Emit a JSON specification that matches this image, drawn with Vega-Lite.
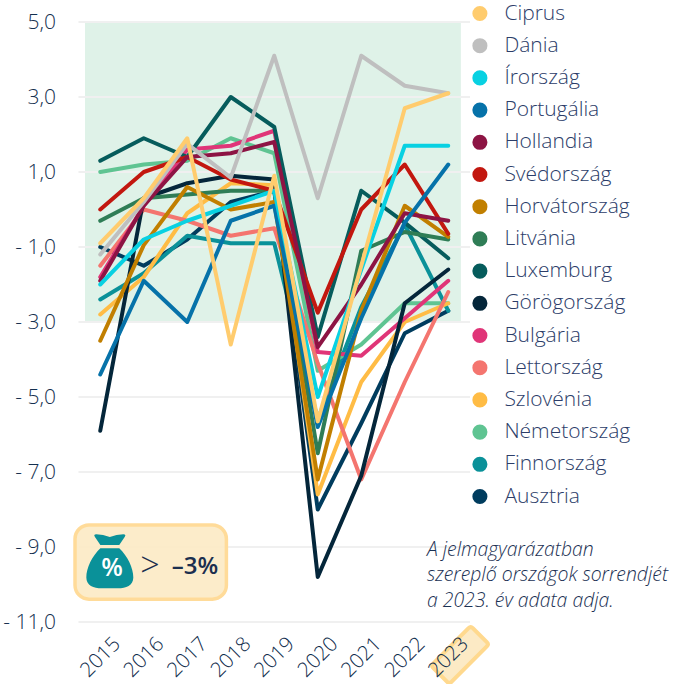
{
"$schema":"https://vega.github.io/schema/vega-lite/v6.json",
"width":391.5,"height":600,
"autosize":{"type":"none"},
"padding":{"left":78.5,"top":22,"right":219,"bottom":62},
"background":"white",
"config":{"view":{"stroke":null},"font":"Open Sans"},
"layer":[
{"data":{"values":[{"x1":2014.65,"x2":2023.29,"y1":5,"y2":-3}]},
 "mark":{"type":"rect","fill":"#DFF2E8"},
 "encoding":{
  "x":{"field":"x1","type":"quantitative","scale":{"domain":[2014.5,2023.5],"nice":false,"zero":false},
   "axis":{"values":[2015,2016,2017,2018,2019,2020,2021,2022,2023],"format":"d","title":null,"grid":false,"domain":false,"ticks":false,"labelAngle":-45,"labelAlign":"center","labelBaseline":"middle","labelPadding":35,"labelFont":"Open Sans","labelFontWeight":300,"labelFontSize":20.5,"labelColor":"#0F2C4C","labelOverlap":false,"labelBound":false,"labelFlush":false,"zindex":1,
    "encoding":{"labels":{"update":{"dx":{"signal":"(datum.value-2015)*1.25+3.5"}}}}}},
  "x2":{"field":"x2"},
  "y":{"field":"y1","type":"quantitative","scale":{"domain":[-11,5],"nice":false,"zero":false},
   "axis":{"values":[5,3,1,-1,-3,-5,-7,-9,-11],"title":null,"grid":false,"domain":false,"ticks":false,"labelPadding":23,"labelFont":"Open Sans","labelFontWeight":300,"labelFontSize":21,"labelColor":"#14304F","labelOverlap":false,"labelBound":false,"labelFlush":false,
    "labelExpr":"(datum.value<0?'- ':'')+replace(format(abs(datum.value),'.1f'),'.',',')"}},
  "y2":{"field":"y2"}
 }},
{"data":{"values":[{"g":5},{"g":3},{"g":1},{"g":-1},{"g":-3},{"g":-5},{"g":-7},{"g":-9},{"g":-11}]},
 "mark":{"type":"rule","stroke":"#F0F0F0","strokeWidth":2},
 "encoding":{"y":{"field":"g","type":"quantitative"}}},
{"data":{"values":[{"x1":2014.42,"x2":2017.9,"y1":-8.41,"y2":-10.39}]},
 "mark":{"type":"rect","fill":"#FCEAC5","fillOpacity":0.92,"stroke":"#FFDB99","strokeWidth":3.5,"cornerRadius":14},
 "encoding":{"x":{"field":"x1","type":"quantitative"},"x2":{"field":"x2"},"y":{"field":"y1","type":"quantitative"},"y2":{"field":"y2"}}},
{"data":{"values":[{"x":2015.22,"y":-9.38}]},
 "mark":{"type":"point","filled":true,"fill":"#0A9199","opacity":1,"size":2916,"shape":"M-0.5,-1 Q-0.25,-1 0,-0.9 Q0.25,-1 0.5,-1 Q0.62,-1 0.55,-0.9 L0.35,-0.6 L-0.35,-0.6 L-0.55,-0.9 Q-0.62,-1 -0.5,-1 Z M-0.35,-0.48 L0.35,-0.48 C0.65,-0.2 0.87,0.25 0.87,0.6 C0.87,0.9 0.6,1 0.3,1 L-0.3,1 C-0.6,1 -0.87,0.9 -0.87,0.6 C-0.87,0.25 -0.65,-0.2 -0.35,-0.48 Z"},
 "encoding":{"x":{"field":"x","type":"quantitative"},"y":{"field":"y","type":"quantitative"}}},
{"data":{"values":[{"x":2023.27,"y":-11.88}]},
 "mark":{"type":"point","filled":true,"fill":"#FCEAC5","stroke":"#FFD98E","strokeWidth":4,"opacity":1,"size":3721,"shape":"M.42,-.88 L.88,-.42 Q.95,-.35 .88,-.28 L-.28,.88 Q-.35,.95 -.42,.88 L-.88,.42 Q-.95,.35 -.88,.28 L.28,-.88 Q.35,-.95 .42,-.88 Z"},
 "encoding":{"x":{"field":"x","type":"quantitative"},"y":{"field":"y","type":"quantitative"}}},
{"data":{"values":[
{"o":"Ausztria","e":2015,"v":-1.0},{"o":"Ausztria","e":2016,"v":-1.5},{"o":"Ausztria","e":2017,"v":-0.8},{"o":"Ausztria","e":2018,"v":0.2},{"o":"Ausztria","e":2019,"v":0.5},{"o":"Ausztria","e":2020,"v":-8.0},{"o":"Ausztria","e":2021,"v":-5.7},{"o":"Ausztria","e":2022,"v":-3.3},{"o":"Ausztria","e":2023,"v":-2.7},
{"o":"Finnország","e":2015,"v":-2.4},{"o":"Finnország","e":2016,"v":-1.7},{"o":"Finnország","e":2017,"v":-0.7},{"o":"Finnország","e":2018,"v":-0.9},{"o":"Finnország","e":2019,"v":-0.9},{"o":"Finnország","e":2020,"v":-5.6},{"o":"Finnország","e":2021,"v":-2.6},{"o":"Finnország","e":2022,"v":-0.4},{"o":"Finnország","e":2023,"v":-2.7},
{"o":"Németország","e":2015,"v":1.0},{"o":"Németország","e":2016,"v":1.2},{"o":"Németország","e":2017,"v":1.3},{"o":"Németország","e":2018,"v":1.9},{"o":"Németország","e":2019,"v":1.5},{"o":"Németország","e":2020,"v":-4.3},{"o":"Németország","e":2021,"v":-3.6},{"o":"Németország","e":2022,"v":-2.5},{"o":"Németország","e":2023,"v":-2.5},
{"o":"Szlovénia","e":2015,"v":-2.8},{"o":"Szlovénia","e":2016,"v":-1.8},{"o":"Szlovénia","e":2017,"v":-0.1},{"o":"Szlovénia","e":2018,"v":0.7},{"o":"Szlovénia","e":2019,"v":0.65},{"o":"Szlovénia","e":2020,"v":-7.6},{"o":"Szlovénia","e":2021,"v":-4.6},{"o":"Szlovénia","e":2022,"v":-3.0},{"o":"Szlovénia","e":2023,"v":-2.5},
{"o":"Lettország","e":2015,"v":-1.5},{"o":"Lettország","e":2016,"v":0.0},{"o":"Lettország","e":2017,"v":-0.3},{"o":"Lettország","e":2018,"v":-0.7},{"o":"Lettország","e":2019,"v":-0.5},{"o":"Lettország","e":2020,"v":-4.1},{"o":"Lettország","e":2021,"v":-7.2},{"o":"Lettország","e":2022,"v":-4.6},{"o":"Lettország","e":2023,"v":-2.2},
{"o":"Bulgária","e":2015,"v":-1.8},{"o":"Bulgária","e":2016,"v":0.1},{"o":"Bulgária","e":2017,"v":1.6},{"o":"Bulgária","e":2018,"v":1.7},{"o":"Bulgária","e":2019,"v":2.1},{"o":"Bulgária","e":2020,"v":-3.8},{"o":"Bulgária","e":2021,"v":-3.9},{"o":"Bulgária","e":2022,"v":-2.9},{"o":"Bulgária","e":2023,"v":-1.9},
{"o":"Görögország","e":2015,"v":-5.9},{"o":"Görögország","e":2016,"v":0.3},{"o":"Görögország","e":2017,"v":0.7},{"o":"Görögország","e":2018,"v":0.9},{"o":"Görögország","e":2019,"v":0.8},{"o":"Görögország","e":2020,"v":-9.8},{"o":"Görögország","e":2021,"v":-7.1},{"o":"Görögország","e":2022,"v":-2.5},{"o":"Görögország","e":2023,"v":-1.6},
{"o":"Luxemburg","e":2015,"v":1.3},{"o":"Luxemburg","e":2016,"v":1.9},{"o":"Luxemburg","e":2017,"v":1.4},{"o":"Luxemburg","e":2018,"v":3.0},{"o":"Luxemburg","e":2019,"v":2.2},{"o":"Luxemburg","e":2020,"v":-3.4},{"o":"Luxemburg","e":2021,"v":0.5},{"o":"Luxemburg","e":2022,"v":-0.35},{"o":"Luxemburg","e":2023,"v":-1.3},
{"o":"Litvánia","e":2015,"v":-0.3},{"o":"Litvánia","e":2016,"v":0.3},{"o":"Litvánia","e":2017,"v":0.4},{"o":"Litvánia","e":2018,"v":0.5},{"o":"Litvánia","e":2019,"v":0.5},{"o":"Litvánia","e":2020,"v":-6.5},{"o":"Litvánia","e":2021,"v":-1.1},{"o":"Litvánia","e":2022,"v":-0.6},{"o":"Litvánia","e":2023,"v":-0.8},
{"o":"Horvátország","e":2015,"v":-3.5},{"o":"Horvátország","e":2016,"v":-0.95},{"o":"Horvátország","e":2017,"v":0.6},{"o":"Horvátország","e":2018,"v":0.0},{"o":"Horvátország","e":2019,"v":0.2},{"o":"Horvátország","e":2020,"v":-7.2},{"o":"Horvátország","e":2021,"v":-2.7},{"o":"Horvátország","e":2022,"v":0.1},{"o":"Horvátország","e":2023,"v":-0.73},
{"o":"Svédország","e":2015,"v":0.0},{"o":"Svédország","e":2016,"v":1.0},{"o":"Svédország","e":2017,"v":1.4},{"o":"Svédország","e":2018,"v":0.8},{"o":"Svédország","e":2019,"v":0.5},{"o":"Svédország","e":2020,"v":-2.75},{"o":"Svédország","e":2021,"v":0.0},{"o":"Svédország","e":2022,"v":1.2},{"o":"Svédország","e":2023,"v":-0.65},
{"o":"Hollandia","e":2015,"v":-1.9},{"o":"Hollandia","e":2016,"v":0.1},{"o":"Hollandia","e":2017,"v":1.4},{"o":"Hollandia","e":2018,"v":1.5},{"o":"Hollandia","e":2019,"v":1.8},{"o":"Hollandia","e":2020,"v":-3.67},{"o":"Hollandia","e":2021,"v":-2.0},{"o":"Hollandia","e":2022,"v":-0.1},{"o":"Hollandia","e":2023,"v":-0.3},
{"o":"Portugália","e":2015,"v":-4.4},{"o":"Portugália","e":2016,"v":-1.9},{"o":"Portugália","e":2017,"v":-3.0},{"o":"Portugália","e":2018,"v":-0.3},{"o":"Portugália","e":2019,"v":0.1},{"o":"Portugália","e":2020,"v":-5.8},{"o":"Portugália","e":2021,"v":-2.9},{"o":"Portugália","e":2022,"v":-0.35},{"o":"Portugália","e":2023,"v":1.2},
{"o":"Írország","e":2015,"v":-2.0},{"o":"Írország","e":2016,"v":-0.8},{"o":"Írország","e":2017,"v":-0.3},{"o":"Írország","e":2018,"v":0.1},{"o":"Írország","e":2019,"v":0.5},{"o":"Írország","e":2020,"v":-5.0},{"o":"Írország","e":2021,"v":-1.6},{"o":"Írország","e":2022,"v":1.7},{"o":"Írország","e":2023,"v":1.7},
{"o":"Dánia","e":2015,"v":-1.2},{"o":"Dánia","e":2016,"v":0.2},{"o":"Dánia","e":2017,"v":1.75},{"o":"Dánia","e":2018,"v":0.85},{"o":"Dánia","e":2019,"v":4.1},{"o":"Dánia","e":2020,"v":0.3},{"o":"Dánia","e":2021,"v":4.1},{"o":"Dánia","e":2022,"v":3.3},{"o":"Dánia","e":2023,"v":3.1},
{"o":"Ciprus","e":2015,"v":-0.9},{"o":"Ciprus","e":2016,"v":0.3},{"o":"Ciprus","e":2017,"v":1.9},{"o":"Ciprus","e":2018,"v":-3.6},{"o":"Ciprus","e":2019,"v":0.9},{"o":"Ciprus","e":2020,"v":-5.65},{"o":"Ciprus","e":2021,"v":-1.5},{"o":"Ciprus","e":2022,"v":2.7},{"o":"Ciprus","e":2023,"v":3.1}
]},
 "mark":{"type":"line","strokeWidth":4,"strokeCap":"round","strokeJoin":"round"},
 "encoding":{
  "x":{"field":"e","type":"quantitative"},
  "y":{"field":"v","type":"quantitative"},
  "color":{"field":"o","type":"nominal",
   "scale":{"domain":["Ciprus","Dánia","Írország","Portugália","Hollandia","Svédország","Horvátország","Litvánia","Luxemburg","Görögország","Bulgária","Lettország","Szlovénia","Németország","Finnország","Ausztria"],
    "range":["#FFCC6E","#BFBFBF","#08D1E2","#0672A9","#8D1444","#C2170F","#C17F00","#2F7D56","#065C5C","#04263A","#E03578","#F4756F","#FFBC45","#5FC492","#0A9199","#003C5E"]},
   "legend":{"title":null,"orient":"none","legendX":390.9,"legendY":-19,"padding":0,"symbolType":"circle","symbolSize":56,"symbolStrokeWidth":7.6,"symbolOpacity":1,"labelFont":"Open Sans","labelFontWeight":300,"labelFontSize":21,"labelColor":"#2C3D69","labelOffset":14,"rowPadding":-6.8,"labelLimit":200,"symbolLimit":0}}
 }},
{"data":{"values":[
{"t":"A jelmagyarázatban","x":2022.51,"y":-9.08},
{"t":"szereplő országok sorrendjét","x":2022.51,"y":-9.75},
{"t":"a 2023. év adata adja.","x":2022.51,"y":-10.44}]},
 "mark":{"type":"text","align":"left","baseline":"middle","font":"Open Sans","fontStyle":"italic","fontWeight":300,"fontSize":19.4,"color":"#1B3153"},
 "encoding":{"x":{"field":"x","type":"quantitative"},"y":{"field":"y","type":"quantitative"},"text":{"field":"t"}}},
{"data":{"values":[{"t":"%","x":2015.27,"y":-9.55}]},
 "mark":{"type":"text","align":"center","baseline":"middle","font":"Open Sans","fontWeight":600,"fontSize":25,"color":"#FFFFFF"},
 "encoding":{"x":{"field":"x","type":"quantitative"},"y":{"field":"y","type":"quantitative"},"text":{"field":"t"}}},
{"data":{"values":[{"t":">","x":2016.14,"y":-9.52}]},
 "mark":{"type":"text","align":"center","baseline":"middle","font":"Open Sans","fontWeight":300,"fontSize":34,"color":"#1B2F4F"},
 "encoding":{"x":{"field":"x","type":"quantitative"},"y":{"field":"y","type":"quantitative"},"text":{"field":"t"}}},
{"data":{"values":[{"t":"–3%","x":2017.18,"y":-9.54}]},
 "mark":{"type":"text","align":"center","baseline":"middle","font":"Open Sans","fontWeight":600,"fontSize":24,"color":"#1B2F4F"},
 "encoding":{"x":{"field":"x","type":"quantitative"},"y":{"field":"y","type":"quantitative"},"text":{"field":"t"}}}
]}
